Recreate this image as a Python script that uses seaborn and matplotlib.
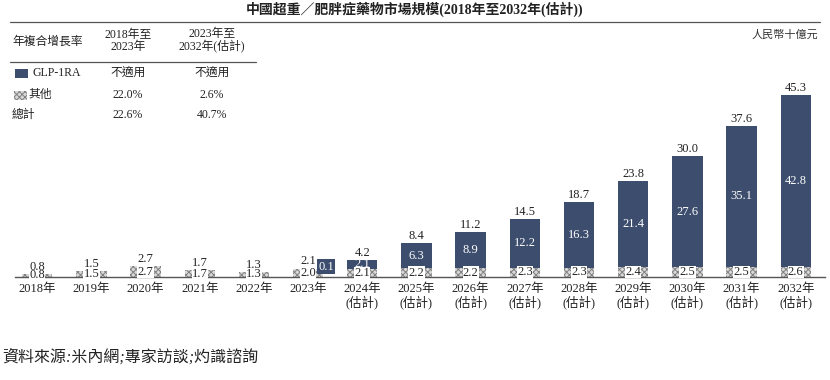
import matplotlib
matplotlib.use("Agg")
import matplotlib.pyplot as plt
import seaborn as sns
import pandas as pd
from matplotlib.patches import Rectangle
from matplotlib.lines import Line2D

years = ["2018年", "2019年", "2020年", "2021年", "2022年", "2023年", "2024年\n(估計)",
         "2025年\n(估計)", "2026年\n(估計)", "2027年\n(估計)", "2028年\n(估計)",
         "2029年\n(估計)", "2030年\n(估計)", "2031年\n(估計)", "2032年\n(估計)"]
other = [0.8, 1.5, 2.7, 1.7, 1.3, 2.0, 2.1, 2.2, 2.2, 2.3, 2.3, 2.4, 2.5, 2.5, 2.6]
glp = [0, 0, 0, 0, 0, 0.1, 2.1, 6.3, 8.9, 12.2, 16.3, 21.4, 27.6, 35.1, 42.8]
total = [0.8, 1.5, 2.7, 1.7, 1.3, 2.1, 4.2, 8.4, 11.2, 14.5, 18.7, 23.8, 30.0, 37.6, 45.3]

title = "中國超重／肥胖症藥物市場規模(2018年至2032年(估計))"
unit = "人民幣十億元"
source = "資料來源:米內網;專家訪談;灼識諮詢"
table_header = ["年複合增長率", "2018年至\n2023年", "2023年至\n2032年(估計)"]
table_rows = [["GLP-1RA", "不適用", "不適用"],
              ["其他", "22.0%", "2.6%"],
              ["總計", "22.6%", "40.7%"]]

sns.set_theme(style="white")
FAM = ["Liberation Serif", "Noto Sans CJK TC", "DejaVu Sans"]
plt.rcParams["font.family"] = FAM
plt.rcParams["hatch.color"] = "#707070"
plt.rcParams["hatch.linewidth"] = 0.7

NAVY = "#3c4d6d"
GRAY = "#d9d9d9"
TXT = "#222222"

W, H = 830, 380
fig = plt.figure(figsize=(W / 100, H / 100), dpi=100)

def fx(px):
    return px / W

def fy(py):
    return 1 - py / H

base_px = 277
top_px = 60
ppu = 182 / 45.3
ymax = (base_px - top_px) / ppu
ax = fig.add_axes([fx(15), fy(base_px), fx(810), (base_px - top_px) / H])

df = pd.DataFrame({"year": years, "other": other, "glp": glp, "total": total})
sns.barplot(data=df, x="year", y="total", color=NAVY, width=0.56, ax=ax,
            saturation=1, edgecolor="none", linewidth=0)
n_tot = len(ax.patches)
sns.barplot(data=df, x="year", y="other", color=GRAY, width=0.56, ax=ax,
            saturation=1, edgecolor="#707070", linewidth=0)
for p in ax.patches[n_tot:]:
    p.set_hatch("xxxxxx")
    p.set_edgecolor("#808080")
    p.set_linewidth(0)

ax.set_xlim(-0.41, 14.54)
ax.set_ylim(0, ymax)
ax.set_xlabel("")
ax.set_ylabel("")
ax.set_yticks([])
for s in ["top", "right", "left"]:
    ax.spines[s].set_visible(False)
ax.spines["bottom"].set_color("#555555")
ax.spines["bottom"].set_linewidth(1.0)
ax.tick_params(axis="x", length=0, pad=4, labelsize=9, colors=TXT)
for t in ax.get_xticklabels():
    t.set_linespacing(1.05)

for i in range(len(years)):
    o, g, tt = other[i], glp[i], total[i]
    ax.text(i, o / 2, f"{o:.1f}", ha="center", va="center", fontsize=9, color=TXT,
            bbox=dict(boxstyle="square,pad=0.02", fc="white", ec="none"))
    if g >= 1:
        ax.text(i, o + g / 2, f"{g:.1f}", ha="center", va="center", fontsize=9, color="white")
    elif g > 0:
        ax.text(i + 0.33, o + 0.6, f"{g:.1f}", ha="center", va="center", fontsize=9,
                color="white", bbox=dict(boxstyle="square,pad=0.1", fc=NAVY, ec="none"))
    ax.text(i, tt + 0.3, f"{tt:.1f}", ha="center", va="bottom", fontsize=9, color=TXT)

# title and rules
fig.text(0.5, fy(9), title, ha="center", va="center", fontsize=10, fontweight="bold",
         color=TXT)
fig.add_artist(Line2D([fx(10), fx(820)], [fy(22), fy(22)], color="#555555", lw=0.9))
fig.text(fx(818), fy(35), unit, ha="right", va="center", fontsize=8, color="#333333",
         style="italic")

# table
fig.text(fx(12), fy(42), table_header[0], ha="left", va="center", fontsize=8.5, color=TXT)
fig.text(fx(128), fy(41), table_header[1], ha="center", va="center", fontsize=8.5,
         color=TXT, linespacing=1.05)
fig.text(fx(212), fy(41), table_header[2], ha="center", va="center", fontsize=8.5,
         color=TXT, linespacing=1.05)
fig.add_artist(Line2D([fx(10), fx(256)], [fy(62), fy(62)], color="#555555", lw=0.9))
row_y = [73, 95, 115]
for (name, a, b), y in zip(table_rows, row_y):
    x0 = 12
    if name == "GLP-1RA":
        fig.add_artist(Rectangle((fx(15), fy(y + 4.5)), fx(13), 9 / H, transform=fig.transFigure,
                                 facecolor=NAVY, edgecolor="none"))
        x0 = 32
    elif name == "其他":
        fig.add_artist(Rectangle((fx(14), fy(y + 4.5)), fx(13), 9 / H, transform=fig.transFigure,
                                 facecolor=GRAY, edgecolor="#808080", hatch="xxxxxx", lw=0))
        x0 = 28
    fig.text(fx(x0), fy(y), name, ha="left", va="center", fontsize=8.5, color=TXT)
    fig.text(fx(128), fy(y), a, ha="center", va="center", fontsize=8.5, color=TXT)
    fig.text(fx(212), fy(y), b, ha="center", va="center", fontsize=8.5, color=TXT)

# source
fig.text(fx(2), fy(357), source, ha="left", va="center", fontsize=11.5, color=TXT,
         style="italic")

fig.savefig("out.png", dpi=100)
